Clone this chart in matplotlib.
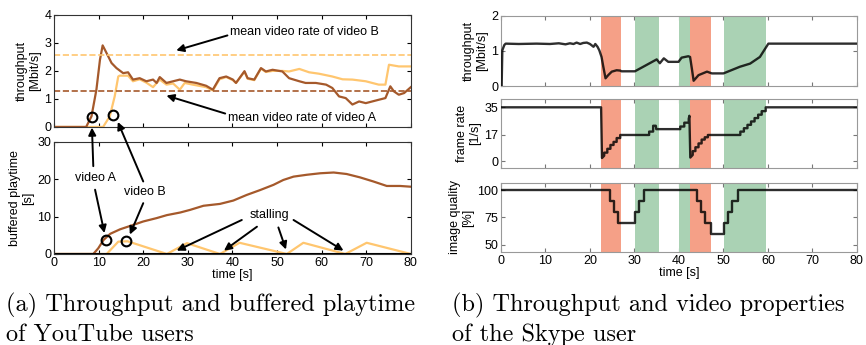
import matplotlib.pyplot as plt

plt.rcParams['font.family'] = ['Liberation Sans', 'DejaVu Sans']

# ---------------- (a) YouTube users ----------------
thr_a_t = [0, 7.2, 8.4, 9.5, 10.3, 10.9, 11.8, 12.9, 14.0, 15.5, 16.6, 17.7, 19.2, 20.7, 22.2, 23.0, 23.7,
           25.2, 26.7, 28.2, 29.6, 31.9, 34.1, 35.6, 37.1, 38.6, 40.1, 40.8, 42.7, 43.4, 44.9, 46.4, 47.5,
           49.0, 51.2, 52.7, 55.0, 56.4, 58.7, 61.0, 62.4, 63.9, 65.4, 66.9, 68.4, 69.9, 72.8, 74.3, 75.4,
           76.2, 77.3, 78.5, 80]
thr_a_v = [0, 0, 0.38, 1.33, 2.4, 2.91, 2.63, 2.28, 2.1, 1.92, 1.95, 1.69, 1.74, 1.63, 1.69, 1.57, 1.78,
           1.57, 1.63, 1.69, 1.63, 1.57, 1.47, 1.33, 1.74, 1.8, 1.69, 1.57, 1.99, 1.74, 1.69, 2.1, 1.98,
           2.04, 1.98, 1.74, 1.63, 1.57, 1.57, 1.51, 1.39, 1.09, 1.03, 0.8, 0.91, 0.85, 0.97, 1.03, 1.45,
           1.27, 1.15, 1.21, 1.42]
thr_b_t = [0, 11.0, 12.5, 13.6, 14.4, 14.7, 16.6, 17.7, 19.2, 20.7, 22.2, 23.7, 25.2, 26.7, 28.2, 29.3,
           31.1, 34.1, 35.6, 37.1, 38.6, 40.1, 40.8, 42.7, 43.4, 44.9, 46.4, 47.5, 49.0, 51.2, 52.7, 55.0,
           57.2, 59.4, 62.4, 64.7, 66.9, 69.9, 72.8, 74.3, 75.1, 77.3, 80]
thr_b_v = [0, 0, 0.38, 1.09, 1.8, 1.83, 1.83, 1.63, 1.7, 1.58, 1.42, 1.69, 1.51, 1.55, 1.33, 1.57,
           1.51, 1.42, 1.3, 1.7, 1.78, 1.67, 1.57, 1.97, 1.72, 1.67, 2.08, 1.96, 2.0, 2.0, 1.98, 2.07,
           1.95, 1.9, 1.8, 1.7, 1.69, 1.63, 1.51, 1.51, 2.22, 2.16, 2.16]
mean_rate_a = 1.29
mean_rate_b = 2.55

buf_a_t = [0, 8.8, 9.9, 11.1, 12.6, 14.8, 17.8, 20.0, 23.0, 25.3, 28.3, 30.5, 33.5, 37.2, 40.2, 43.2,
           46.2, 49.2, 51.4, 53.7, 56.7, 59.7, 62.7, 65.6, 68.6, 71.6, 74.6, 77.6, 80]
buf_a_v = [0, 0, 1.5, 3.75, 5.4, 6.6, 7.8, 8.7, 9.6, 10.4, 11.1, 11.8, 12.9, 13.4, 14.3, 15.8,
           17.1, 18.5, 19.8, 20.7, 21.2, 21.6, 21.8, 21.4, 20.5, 19.4, 18.2, 18.2, 18.0]
buf_b_t = [0, 11.8, 14.4, 16.5, 25.3, 29.8, 37.2, 41.6, 52.2, 55.9, 65.3, 70.1, 80]
buf_b_v = [0, 0, 3.3, 3.4, 0, 2.9, 0, 3.0, 0, 3.0, 0, 3.0, 0]

# ---------------- (b) Skype user ----------------
red_spans = [(22.4, 26.9), (42.4, 47.2)]
green_spans = [(30.1, 35.5), (40.1, 42.4), (50.1, 59.6)]

sk_thr_t = [0, 0.15, 0.3, 0.75, 1.05, 4, 8, 11, 13, 14.5, 15.5, 16.3, 17.0, 17.8, 18.5, 19.3, 20.0, 20.8,
            21.2, 21.7, 22.1, 22.6, 23.0, 23.5, 24.1, 24.9, 26.0, 26.8, 27.1, 30.1, 32.7, 35.0, 35.7,
            36.6, 37.6, 39.9, 40.6, 42.1, 42.5, 42.9, 43.3, 44.4, 46.3, 47.4, 50.0, 53.7, 56.0, 58.2,
            60.1, 80]
sk_thr_v = [0, 0, 1.02, 1.17, 1.21, 1.2, 1.21, 1.2, 1.22, 1.19, 1.22, 1.2, 1.24, 1.2, 1.23, 1.24, 1.2, 1.12,
            1.2, 1.12, 1.02, 0.83, 0.55, 0.22, 0.31, 0.41, 0.45, 0.44, 0.42, 0.42, 0.6, 0.76, 0.65,
            0.79, 0.69, 0.69, 0.81, 0.85, 0.83, 0.5, 0.15, 0.31, 0.41, 0.36, 0.36, 0.55, 0.64, 0.83,
            1.21, 1.21]

fr_t = [0, 22.5, 22.7, 23.2, 23.2, 23.9, 23.9, 24.6, 24.6, 25.3, 25.3, 26.0, 26.0, 26.8, 26.8,
        33.3, 33.3, 34.2, 34.2, 34.8, 34.9, 40.3, 40.3, 41.2, 41.2, 42.2, 42.2, 42.35, 42.55,
        43.1, 43.1, 43.7, 43.7, 44.4, 44.4, 45.1, 45.1, 45.8, 45.8, 46.5, 46.5, 53.8, 53.8, 54.6, 54.6,
        55.4, 55.4, 56.2, 56.2, 57.0, 57.0, 57.8, 57.8, 58.6, 58.6, 59.5, 59.5, 80]
fr_v = [35, 35, 2, 3.5, 5.5, 5.5, 8, 8, 10.5, 10.5, 12.5, 12.5, 15, 15, 17,
        17, 19.2, 19.2, 23, 23, 20.8, 20.8, 22.5, 22.5, 25, 25, 27.5, 29.5, 2.3,
        4, 6.5, 6.5, 9, 9, 11.5, 11.5, 14, 14, 15.5, 15.5, 17, 17, 19.2, 19.2, 21.4,
        21.4, 23.6, 23.6, 25.8, 25.8, 28, 28, 30.2, 30.2, 32.5, 32.5, 35, 35]

iq_t = [0, 24.5, 25.4, 26.3, 30.1, 31.1, 32.2, 44.0, 45.0, 45.9, 47.2, 50.1, 51.0, 52.0, 53.2, 80]
iq_v = [100, 90, 80, 70, 80, 90, 100, 90, 80, 70, 60, 70, 80, 90, 100, 100]

col_a = '#A5592B'
col_b = '#FFC66F'
fs = 9

fig = plt.figure(figsize=(8.66, 3.45), dpi=100)

ax1 = fig.add_axes([0.0624, 0.632, 0.412, 0.325])
ax2 = fig.add_axes([0.0624, 0.2638, 0.412, 0.325])

ax1.plot(thr_b_t, thr_b_v, color=col_b, lw=1.6)
ax1.plot(thr_a_t, thr_a_v, color=col_a, lw=1.6)
ax1.axhline(mean_rate_b, color=col_b, ls='--', lw=1.2)
ax1.axhline(mean_rate_a, color=col_a, ls='--', lw=1.2)
ax1.plot([8.4], [0.36], 'o', mfc='none', mec='black', mew=1.5, ms=7)
ax1.plot([13.3], [0.43], 'o', mfc='none', mec='black', mew=1.5, ms=7)
ax1.set_xlim(0, 80)
ax1.set_ylim(0, 4)
ax1.set_yticks([0, 1, 2, 3, 4])
ax1.set_xticks(range(0, 81, 10))
ax1.set_xticklabels([])
ax1.set_ylabel('throughput\n[Mbit/s]', fontsize=fs, labelpad=2)

arr = dict(arrowstyle='-|>', color='black', lw=1.4, mutation_scale=11, shrinkA=0, shrinkB=0)
ax1.annotate('mean video rate of video B', xy=(27.4, 2.73), xytext=(39.5, 3.38),
             fontsize=fs, va='center', arrowprops=dict(arr, relpos=(0, 0.3)))
ax1.annotate('mean video rate of video A', xy=(25.2, 1.12), xytext=(39.0, 0.32),
             fontsize=fs, va='center', arrowprops=dict(arr, relpos=(0, 0.8)))

ax2.plot(buf_b_t, buf_b_v, color=col_b, lw=1.6)
ax2.plot(buf_a_t, buf_a_v, color=col_a, lw=1.6)
ax2.axhline(0, color='black', lw=1.5)
ax2.plot([11.7], [3.75], 'o', mfc='none', mec='black', mew=1.5, ms=7)
ax2.plot([16.2], [3.6], 'o', mfc='none', mec='black', mew=1.5, ms=7)
ax2.set_xlim(0, 80)
ax2.set_ylim(0, 30)
ax2.set_yticks([0, 10, 20, 30])
ax2.set_xticks(range(0, 81, 10))
ax2.set_xlabel('time [s]', fontsize=fs, labelpad=0)
ax2.set_ylabel('buffered playtime\n[s]', fontsize=fs, labelpad=2)

ax2.text(9.2, 20.3, 'video A', fontsize=fs, ha='center', va='center')
ax2.text(20.4, 16.7, 'video B', fontsize=fs, ha='center', va='center')
ax2.text(48.4, 10.4, 'stalling', fontsize=fs, ha='center', va='center')
ax2.annotate('', xy=(8.5, -0.02), xycoords=ax1.transData, xytext=(8.8, 23.5), textcoords='data',
             arrowprops=arr, annotation_clip=False)
ax2.annotate('', xy=(14.3, 0.18), xycoords=ax1.transData, xytext=(20.0, 19.4), textcoords='data',
             arrowprops=arr, annotation_clip=False)
ax2.annotate('', xy=(11.3, 5.6), xytext=(9.2, 17.2), arrowprops=arr)
ax2.annotate('', xy=(17.0, 5.2), xytext=(20.0, 13.6), arrowprops=arr)
for x0, y0, x1, y1 in [(42.1, 9.1, 27.5, 0.9), (45.5, 7.3, 38.1, 0.9),
                       (50.3, 7.1, 52.0, 1.2), (53.7, 9.1, 64.9, 0.9)]:
    ax2.annotate('', xy=(x1, y1), xytext=(x0, y0), arrowprops=arr)

for ax in (ax1, ax2):
    ax.tick_params(direction='in', labelsize=fs, length=3, pad=2, top=True, right=True)
    for s in ax.spines.values():
        s.set_color('#333333')
        s.set_linewidth(0.8)

# right panel
bx1 = fig.add_axes([0.5785, 0.7507, 0.411, 0.203])
bx2 = fig.add_axes([0.5785, 0.513, 0.411, 0.2])
bx3 = fig.add_axes([0.5785, 0.2696, 0.411, 0.2])

line_kw = dict(color='black', lw=1.7, alpha=0.82, zorder=4)
bx1.plot(sk_thr_t, sk_thr_v, **line_kw)
bx2.plot(fr_t, fr_v, **line_kw)
bx3.plot(iq_t, iq_v, drawstyle='steps-post', **line_kw)

for ax in (bx1, bx2, bx3):
    for a, b in red_spans:
        ax.axvspan(a, b, color='#F5A087', lw=0, zorder=2)
    for a, b in green_spans:
        ax.axvspan(a, b, color='#AAD2B4', lw=0, zorder=2)
    ax.set_xlim(0, 80)
    ax.set_xticks(range(0, 81, 10))
    ax.tick_params(direction='in', labelsize=fs, length=3, pad=2, top=True, right=True, colors='#777777',
                   labelcolor='black')
    for s in ax.spines.values():
        s.set_color('#999999')
        s.set_linewidth(0.8)

bx1.set_ylim(0, 2)
bx1.set_yticks([0, 1, 2])
bx1.set_xticklabels([])
bx1.set_ylabel('throughput\n[Mbit/s]', fontsize=fs, labelpad=2)
bx2.set_ylim(-4.5, 40.4)
bx2.set_yticks([0, 17, 35])
bx2.set_xticklabels([])
bx2.set_ylabel('frame rate\n[1/s]', fontsize=fs, labelpad=2)
bx3.set_ylim(43.2, 106.8)
bx3.set_yticks([50, 75, 100])
bx3.set_ylabel('image quality\n[%]', fontsize=fs, labelpad=2)
bx3.set_xlabel('time [s]', fontsize=fs, labelpad=0)
fig.align_ylabels([bx1, bx2, bx3])

cap = dict(family='cmr10', fontsize=17.5, va='baseline', ha='left')
fig.text(0.007, 0.0986, '(a) Throughput and buffered playtime', **cap)
fig.text(0.007, 0.0116, 'of YouTube users', **cap)
fig.text(0.522, 0.0986, '(b) Throughput and video properties', **cap)
fig.text(0.522, 0.0116, 'of the Skype user', **cap)

fig.savefig('out.png', dpi=100)
